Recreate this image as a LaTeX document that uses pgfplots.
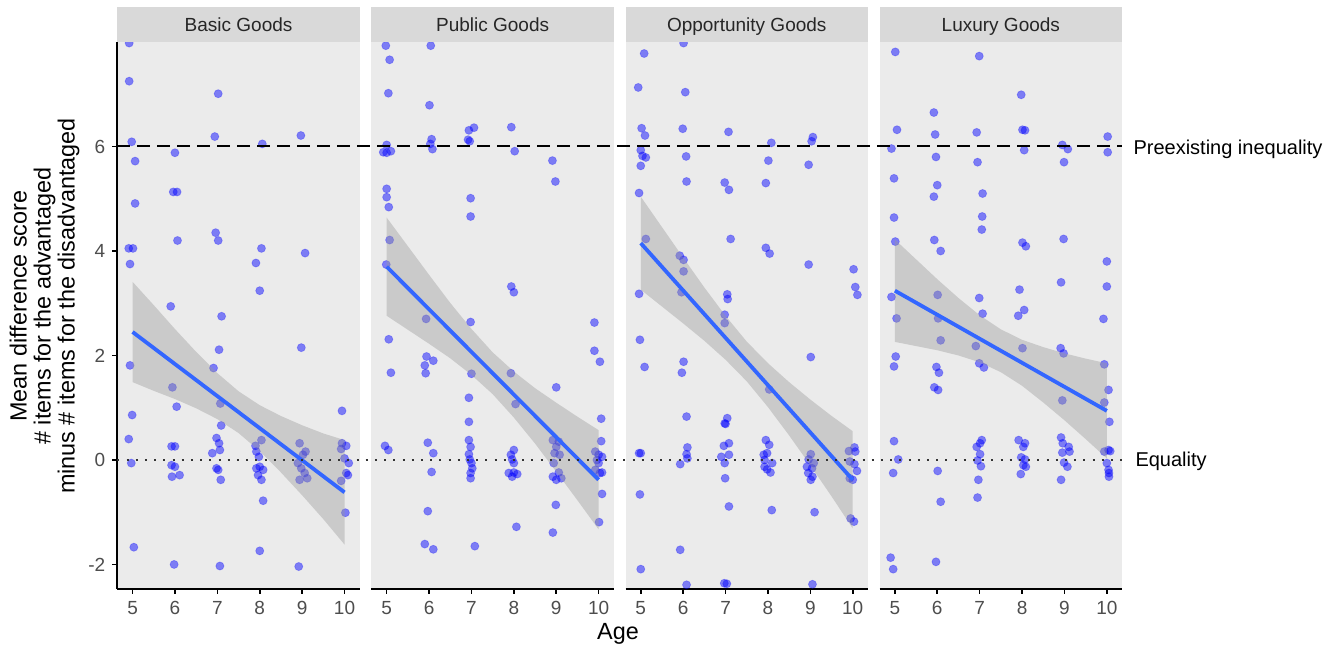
\documentclass[border=0pt]{standalone}
\usepackage{fontspec}
\setmainfont{Liberation Sans}
\usepackage{pgfplots}
\pgfplotsset{compat=1.18}
\usepackage{pgfplotstable}
\definecolor{panelbg}{HTML}{EBEBEB}
\definecolor{stripbg}{HTML}{D9D9D9}
\definecolor{tickgray}{HTML}{4D4D4D}
\definecolor{striptext}{HTML}{262626}
\definecolor{fitblue}{HTML}{3366FF}
\definecolor{bandgray}{HTML}{999999}

\pgfplotstableread{
x y
4.92 7.98
4.92 7.25
7.02 7.01
4.98 6.09
6.94 6.19
8.06 6.05
8.97 6.21
5.06 5.72
6.00 5.88
5.96 5.13
6.05 5.13
5.06 4.91
6.96 4.35
7.02 4.20
6.06 4.20
4.91 4.05
5.01 4.05
4.94 3.75
8.04 4.05
9.07 3.96
7.91 3.77
8.00 3.24
5.90 2.94
7.10 2.75
8.98 2.15
7.04 2.11
4.94 1.81
6.91 1.76
5.94 1.39
4.99 0.86
6.04 1.02
7.07 1.08
7.09 0.66
9.94 0.94
4.91 0.40
4.97 -0.06
5.92 0.26
6.00 0.26
5.92 -0.10
6.00 -0.13
5.93 -0.32
6.11 -0.29
6.98 0.42
7.04 0.32
7.06 0.19
6.88 0.13
6.98 -0.16
7.02 -0.19
7.08 -0.38
8.04 0.38
7.90 0.27
7.92 0.16
7.98 0.06
8.00 -0.13
7.92 -0.16
8.08 -0.19
7.96 -0.29
8.04 -0.38
8.08 -0.78
8.94 0.32
9.08 0.16
9.02 0.10
8.90 -0.06
8.98 -0.16
9.06 -0.25
8.94 -0.38
9.12 -0.35
9.94 0.32
10.04 0.27
9.92 0.21
10.00 0.03
10.10 -0.06
10.04 -0.25
10.08 -0.29
9.92 -0.40
10.02 -1.01
5.03 -1.67
5.98 -2.00
7.06 -2.03
8.00 -1.74
8.92 -2.04
}\basicpts

\pgfplotstableread{
x y
4.98 7.93
6.04 7.93
5.07 7.66
5.04 7.02
6.01 6.79
6.94 6.31
7.06 6.36
7.94 6.37
5.00 6.03
4.92 5.89
5.00 5.88
5.10 5.91
6.06 6.14
6.03 6.05
6.08 5.95
6.92 6.13
6.96 6.10
8.02 5.91
8.91 5.73
8.98 5.33
5.00 5.19
5.00 5.03
5.05 4.84
6.98 5.01
6.98 4.66
5.07 4.21
4.99 3.74
7.94 3.32
8.00 3.21
5.93 2.70
6.98 2.64
9.90 2.63
5.05 2.31
9.90 2.09
10.03 1.88
5.94 1.98
5.90 1.81
5.92 1.66
6.10 1.90
5.10 1.67
7.00 1.65
7.93 1.66
9.00 1.39
6.94 1.19
8.04 1.07
6.94 0.73
10.06 0.79
6.94 0.38
6.98 0.25
6.94 0.11
6.96 0.01
7.00 -0.06
7.02 -0.16
6.98 -0.25
6.98 -0.35
4.96 0.27
5.04 0.19
5.97 0.33
6.10 0.13
6.06 -0.23
8.00 0.19
7.93 0.10
7.96 0.01
8.00 -0.06
7.88 -0.25
8.00 -0.24
8.08 -0.27
7.96 -0.32
8.92 0.38
9.06 0.35
9.00 0.25
8.96 0.13
9.08 0.10
8.94 -0.06
9.06 -0.24
8.92 -0.32
9.00 -0.38
9.12 -0.35
10.06 0.36
9.92 0.16
10.00 0.10
10.08 0.06
9.96 0.00
10.00 -0.06
10.08 -0.24
10.03 -0.25
9.92 -0.19
10.08 -0.65
10.01 -1.19
8.99 -0.86
8.92 -1.39
8.06 -1.28
5.97 -0.98
5.90 -1.61
6.10 -1.71
7.08 -1.65
}\publicpts

\pgfplotstableread{
x y
6.01 7.98
5.08 7.78
4.94 7.13
6.05 7.04
5.02 6.35
5.10 6.21
5.99 6.34
7.07 6.28
8.08 6.07
9.06 6.18
9.03 6.10
5.00 5.93
5.04 5.82
5.12 5.79
5.00 5.63
6.07 5.81
8.01 5.73
8.96 5.65
6.08 5.33
6.98 5.31
7.08 5.17
7.95 5.30
4.96 5.11
5.12 4.23
7.12 4.23
7.95 4.06
8.04 3.95
5.92 3.91
6.01 3.83
6.01 3.61
8.96 3.74
10.02 3.65
10.06 3.31
10.11 3.16
4.96 3.18
5.96 3.21
7.04 3.17
7.05 3.08
6.98 2.78
6.98 2.62
4.98 2.30
5.09 1.78
6.01 1.88
5.97 1.67
9.01 1.97
8.03 1.35
6.08 0.83
7.04 0.80
7.00 0.69
6.98 0.70
7.08 0.32
6.96 0.27
7.08 0.10
6.90 0.06
6.98 -0.06
6.99 -0.35
7.08 -0.89
4.96 0.13
5.00 0.13
6.10 0.24
6.08 0.11
6.10 0.03
5.93 -0.08
7.95 0.38
8.03 0.29
7.90 0.10
7.98 0.13
7.92 0.00
8.10 -0.06
7.92 -0.13
7.98 -0.18
8.06 -0.24
8.09 -0.96
9.01 0.11
8.96 0.01
9.08 -0.06
8.92 -0.13
9.04 -0.16
8.95 -0.25
9.05 -0.32
9.01 -0.38
9.10 -1.00
9.91 0.17
10.04 0.24
10.06 0.16
9.93 -0.03
10.04 -0.08
10.10 -0.21
9.93 -0.35
10.00 -0.38
9.95 -1.12
10.03 -1.18
4.98 -0.66
5.93 -1.72
5.00 -2.09
6.08 -2.39
6.97 -2.36
7.03 -2.37
9.05 -2.38
}\opppts

\pgfplotstableread{
x y
5.01 7.81
6.99 7.73
7.98 6.99
5.92 6.65
5.05 6.32
5.95 6.23
6.93 6.27
8.01 6.32
8.07 6.31
10.02 6.19
4.92 5.96
8.95 6.03
9.08 5.95
8.05 5.93
10.02 5.89
5.97 5.80
6.95 5.70
8.99 5.70
4.98 5.39
6.00 5.26
5.92 5.04
7.07 5.10
4.98 4.64
7.06 4.66
7.05 4.41
5.01 4.18
5.93 4.21
6.08 4.00
8.01 4.16
8.09 4.09
8.98 4.23
10.00 3.80
8.92 3.40
7.94 3.26
10.00 3.32
4.92 3.12
6.01 3.16
6.99 3.10
8.05 2.87
7.91 2.76
7.07 2.80
5.04 2.71
6.02 2.71
9.92 2.70
6.08 2.29
8.01 2.14
8.91 2.14
8.98 2.04
6.91 2.18
6.99 1.85
7.10 1.77
5.02 1.98
4.98 1.79
5.98 1.78
6.04 1.67
5.93 1.39
6.02 1.34
9.94 1.83
10.04 1.34
8.95 1.14
9.94 1.10
10.06 0.73
4.98 0.36
5.08 0.01
4.96 -0.25
6.01 -0.21
6.08 -0.80
7.05 0.38
7.01 0.32
6.93 0.25
7.01 0.11
6.95 -0.01
7.03 -0.12
6.97 -0.38
6.95 -0.72
7.92 0.38
8.07 0.32
8.03 0.25
7.98 0.05
8.07 0.01
8.03 -0.10
8.09 -0.13
7.97 -0.27
8.92 0.43
8.96 0.32
9.10 0.25
9.12 0.16
8.95 0.14
8.99 -0.05
9.07 -0.13
8.92 -0.38
9.94 0.16
10.04 0.19
10.08 0.17
10.00 -0.06
10.04 -0.19
10.05 -0.25
10.05 -0.32
4.90 -1.87
4.96 -2.09
5.97 -1.95
}\luxpts

\pgfplotsset{
  facet/.style={
    at={(#1,29.5pt)}, anchor=south west,
    width=121.25pt, height=273.5pt, scale only axis,
    xmin=4.64, xmax=10.36, ymin=-2.47, ymax=8.0,
    enlargelimits=false,
    axis background/.style={fill=panelbg},
    axis x line*=bottom,
    axis line style={black, line width=0.9pt},
    xtick={5,6,7,8,9,10}, xticklabels={5,6,7,8,9,10},
    tick style={black, line width=0.8pt},
    major tick length=2.5pt, tick align=outside,
    ticklabel style={font=\fontsize{9.5}{11}\selectfont, text=tickgray},
    clip mode=individual,
  },
  pts/.style={only marks, mark=*, mark size=2.05pt,
    mark options={fill=blue, fill opacity=0.47, draw=blue, draw opacity=0.25, line width=0.35pt}},
  band/.style={fill=bandgray, fill opacity=0.4, draw=none},
  fit/.style={fitblue, line width=1.9pt},
}
\newcommand{\strip}[1]{%
  \fill[stripbg] (rel axis cs:0,1) rectangle ([yshift=17.5pt]rel axis cs:1,1);
  \node[anchor=base, inner sep=0pt, font=\fontsize{9.5}{11}\selectfont, text=striptext] at ([yshift=5.3pt]rel axis cs:0.5,1) {#1};
}

\begin{document}
\begin{tikzpicture}
\useasboundingbox (0,0) rectangle (667pt,324pt);

% Panel 1
\begin{axis}[facet=58.65pt,
  axis y line*=left,
  ytick={-2,0,2,4,6}, yticklabels={-2,0,2,4,6}]
\addplot[pts] table {\basicpts};
\addplot[band] coordinates {(5,3.41)(5.5,2.963)(6,2.506)(6.5,2.069)(7,1.662)(7.5,1.315)(8,1.048)(8.5,0.841)(9,0.664)(9.5,0.507)(10,0.38)
 (10,-1.62)(9.5,-1.133)(9,-0.676)(8.5,-0.239)(8,0.168)(7.5,0.515)(7,0.782)(6.5,0.989)(6,1.166)(5.5,1.323)(5,1.49)};
\addplot[fit] coordinates {(5,2.45)(10,-0.62)};
\strip{Basic Goods}
\coordinate (L6) at (axis cs:4.64,6);
\coordinate (L0) at (axis cs:4.64,0);
\end{axis}

% Panel 2
\begin{axis}[facet=185.7pt, axis y line=none]
\addplot[pts] table {\publicpts};
\addplot[band] coordinates {(5,4.64)(5.5,4.092)(6,3.544)(6.5,3.006)(7,2.508)(7.5,2.06)(8,1.692)(8.5,1.374)(9,1.096)(9.5,0.828)(10,0.57)
 (10,-1.33)(9.5,-0.772)(9,-0.224)(8.5,0.314)(8,0.812)(7.5,1.26)(7,1.628)(6.5,1.946)(6,2.224)(5.5,2.492)(5,2.76)};
\addplot[fit] coordinates {(5,3.70)(10,-0.38)};
\strip{Public Goods}
\end{axis}

% Panel 3
\begin{axis}[facet=312.75pt, axis y line=none]
\addplot[pts] table {\opppts};
\addplot[band] coordinates {(5,5.04)(5.5,4.457)(6,3.874)(6.5,3.301)(7,2.758)(7.5,2.265)(8,1.852)(8.5,1.489)(9,1.156)(9.5,0.843)(10,0.55)
 (10,-1.31)(9.5,-0.697)(9,-0.104)(8.5,0.469)(8,1.012)(7.5,1.505)(7,1.918)(6.5,2.281)(6,2.614)(5.5,2.937)(5,3.26)};
\addplot[fit] coordinates {(5,4.15)(10,-0.38)};
\strip{Opportunity Goods}
\end{axis}

% Panel 4
\begin{axis}[facet=439.8pt, axis y line=none]
\addplot[pts] table {\luxpts};
\addplot[band] coordinates {(5,4.22)(5.5,3.84)(6,3.46)(6.5,3.10)(7,2.77)(7.5,2.50)(8,2.30)(8.5,2.16)(9,2.04)(9.5,1.94)(10,1.85)
 (10,0.03)(9.5,0.40)(9,0.76)(8.5,1.10)(8,1.42)(7.5,1.68)(7,1.87)(6.5,2.00)(6,2.10)(5.5,2.18)(5,2.26)};
\addplot[fit] coordinates {(5,3.24)(10,0.94)};
\strip{Luxury Goods}
\coordinate (R6) at (axis cs:10.36,6);
\coordinate (R0) at (axis cs:10.36,0);
\end{axis}

\draw[black, line width=1pt, dash pattern=on 6.5pt off 3.5pt] (L6) -- (R6);
\draw[black!80, line width=1pt, dash pattern=on 1pt off 3.6pt] (L0) -- (R0);

\node[anchor=west, inner sep=0pt, font=\fontsize{10}{12}\selectfont] at ([xshift=5.5pt,yshift=-1.4pt]R6) {Preexisting inequality};
\node[anchor=west, inner sep=0pt, font=\fontsize{10}{12}\selectfont] at ([xshift=6.5pt,yshift=-0.8pt]R0) {Equality};

\node[font=\fontsize{11.7}{12}\selectfont] at (309pt,7pt) {Age};
\node[rotate=90, align=center, font=\fontsize{11.7}{12}\selectfont] at (22.3pt,171pt)
  {Mean difference score\\\# items for the advantaged\\minus \# items for the disadvantaged};
\end{tikzpicture}
\end{document}
